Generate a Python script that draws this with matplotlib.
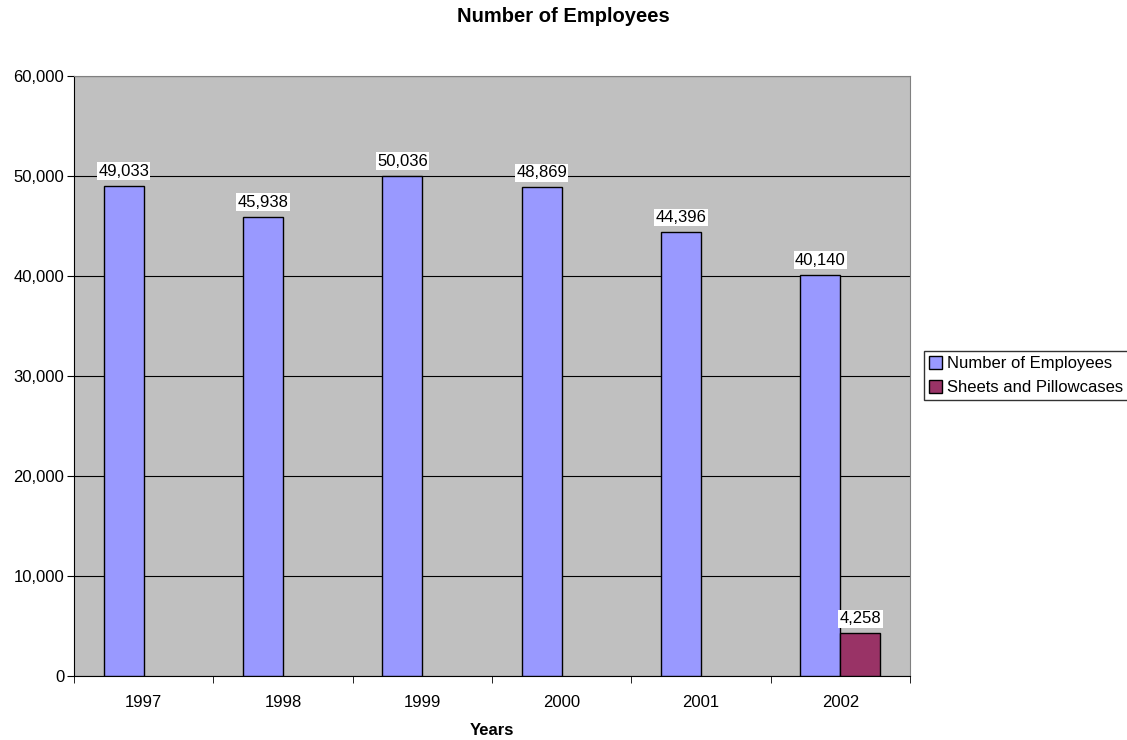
import numpy as np
import matplotlib.pyplot as plt
from matplotlib.ticker import FuncFormatter, FixedLocator

plt.rcParams['font.family'] = ['Liberation Sans', 'DejaVu Sans']
plt.rcParams['font.size'] = 12

years = ['1997', '1998', '1999', '2000', '2001', '2002']
employees = [49033, 45938, 50036, 48869, 44396, 40140]
sheets = [np.nan, np.nan, np.nan, np.nan, np.nan, 4258]

fig = plt.figure(figsize=(11.27, 7.40), dpi=100)
ax = fig.add_axes([0.0657, 0.0865, 0.7418, 0.8108])
ax.set_facecolor('#c0c0c0')

x = np.arange(len(years))
w = 0.287
b1 = ax.bar(x - w/2, employees, w, color='#9999ff', edgecolor='black', lw=1, label='Number of Employees', zorder=3)
b2 = ax.bar(x + w/2, sheets, w, color='#993366', edgecolor='black', lw=1, label='Sheets and Pillowcases', zorder=3)

for rects, vals in [(b1, employees), (b2, sheets)]:
    for r, v in zip(rects, vals):
        if np.isnan(v):
            continue
        ax.text(r.get_x() + r.get_width()/2, v + 700, f'{int(v):,}', ha='center', va='bottom',
                fontsize=12, bbox=dict(facecolor='white', edgecolor='none', pad=1), zorder=4)

ax.set_ylim(0, 60000)
ax.set_xlim(-0.5, 5.5)
ax.set_yticks(np.arange(0, 60001, 10000))
ax.yaxis.set_major_formatter(FuncFormatter(lambda v, p: f'{int(v):,}'))
ax.yaxis.grid(True, color='black', lw=0.8, zorder=1)
ax.set_xticks(x)
ax.set_xticklabels(years)
ax.tick_params(axis='x', length=0, pad=14)
ax.xaxis.set_minor_locator(FixedLocator(np.arange(-0.5, 6, 1)))
ax.tick_params(axis='x', which='minor', length=5, direction='out')
ax.tick_params(axis='y', length=5, direction='out', pad=2)

for s in ['top', 'right']:
    ax.spines[s].set_color('#808080')
for s in ['left', 'bottom']:
    ax.spines[s].set_color('black')

ax.set_xlabel('Years', fontweight='bold', labelpad=9)
fig.suptitle('Number of Employees', fontweight='bold', fontsize=14.5, y=0.99)

leg = fig.legend(loc='upper left', bbox_to_anchor=(0.8199, 0.5257), frameon=True, fancybox=False,
                 handlelength=0.8, handleheight=0.8, handletextpad=0.3, borderpad=0.3,
                 labelspacing=0.55, borderaxespad=0, fontsize=12)
leg.get_frame().set_edgecolor('black')
leg.get_frame().set_linewidth(1)

fig.savefig('out.png', dpi=100)
